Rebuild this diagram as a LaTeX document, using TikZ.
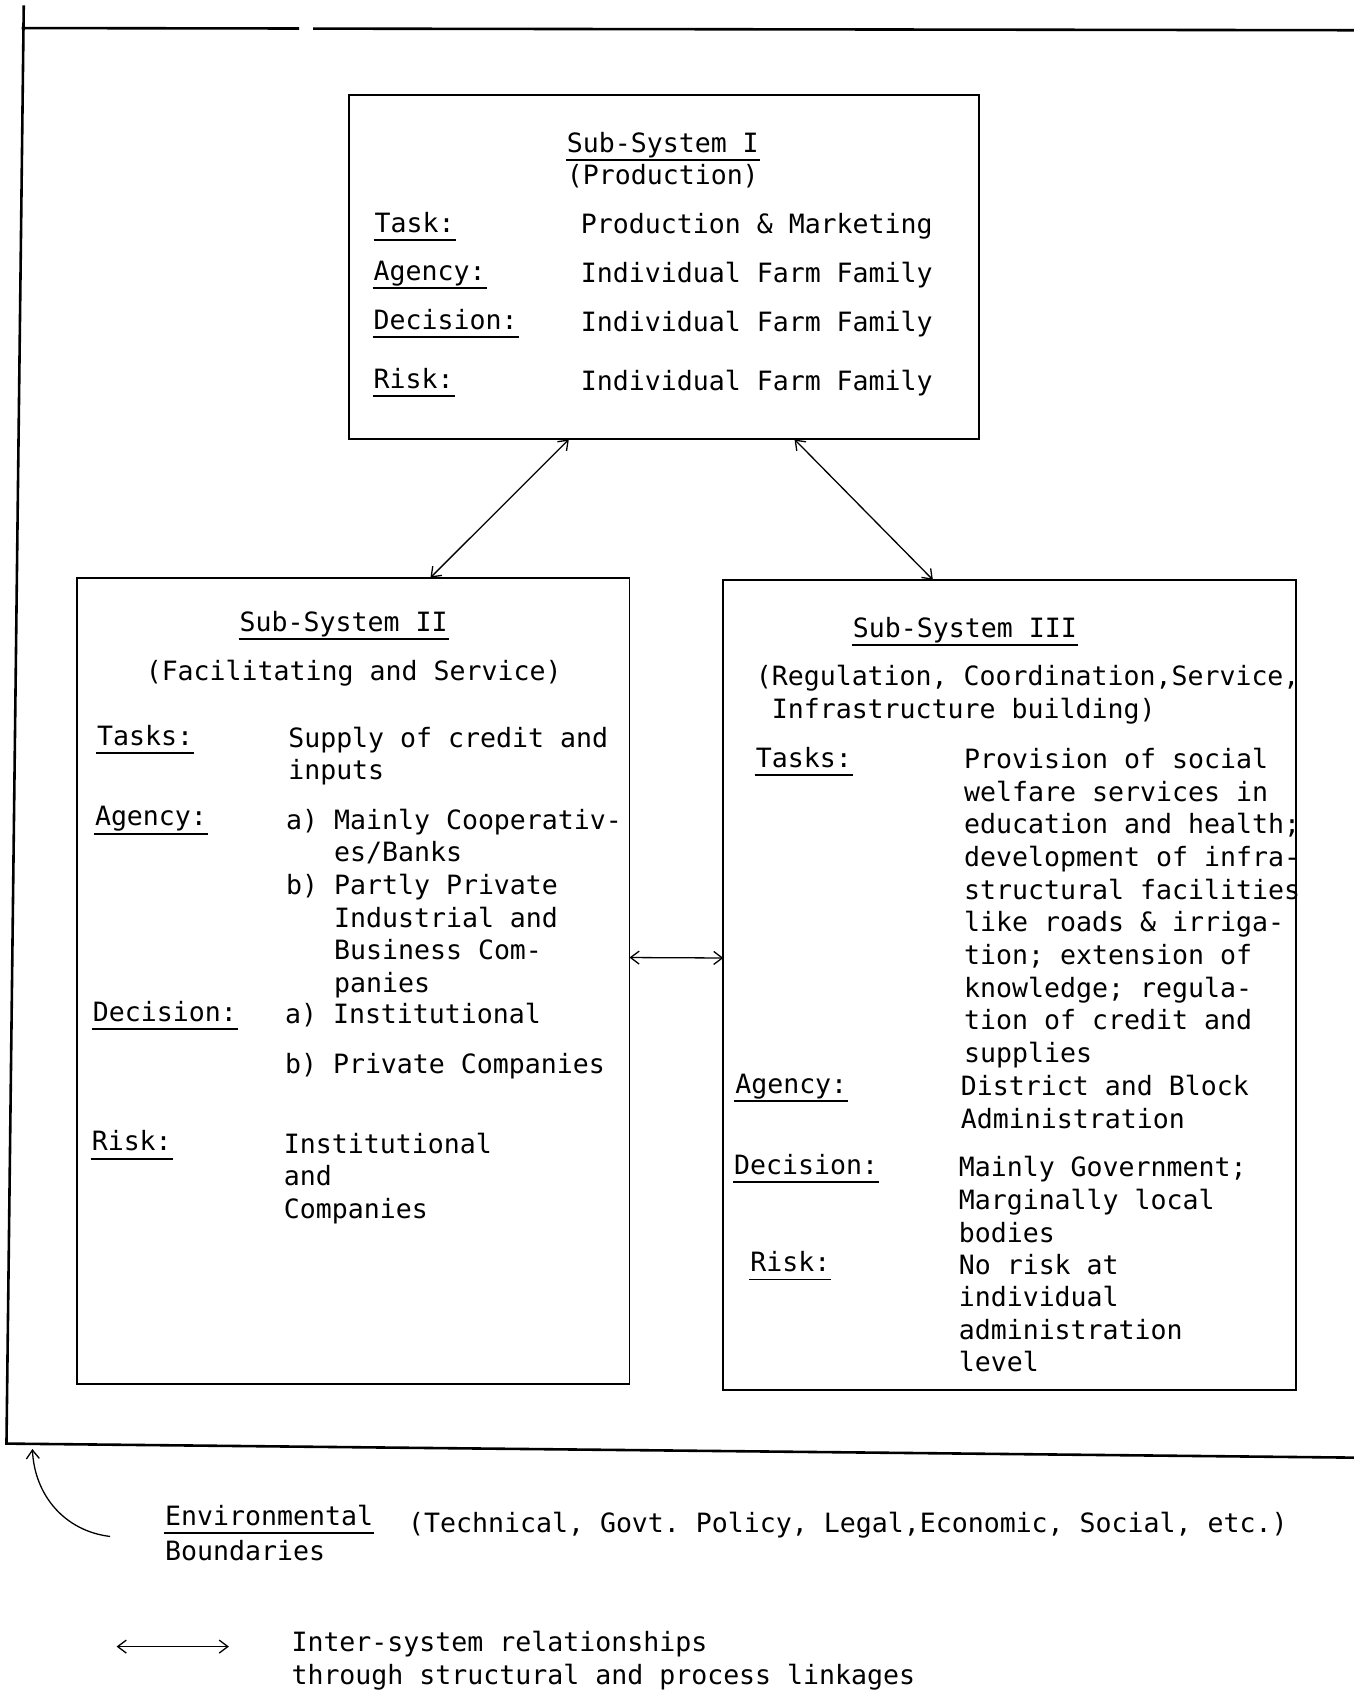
\documentclass[tikz,border=0pt]{standalone}
\usepackage{fontspec}
\newfontfamily\tw{DejaVu Sans Mono}
\usetikzlibrary{arrows.meta,calc}
\frenchspacing
\newcommand\undl[1]{\draw[ulin] ($(#1.base west)+(-1,7)$) -- ($(#1.base east)+(1,7)$);}
\begin{document}
\begin{tikzpicture}[x=0.5pt,y=-0.5pt,
  txt/.style={inner sep=0pt, outer sep=0pt, anchor=base west, font=\tw\frenchspacing\fontsize{12.3}{15.1}\selectfont},
  blk/.style={txt, anchor=north west, align=left},
  sbox/.style={draw, line width=0.9pt, inner sep=0pt, outer sep=0pt, anchor=north west},
  ulin/.style={line width=0.9pt},
  frame/.style={line width=1.2pt},
  conn/.style={line width=0.6pt, {Straight Barb[length=4pt,width=6pt]}-{Straight Barb[length=4pt,width=6pt]}}
]
\useasboundingbox (0,0) rectangle (1254,1568);

% outer environmental boundary
\coordinate (fTL) at (22,5);
\coordinate (fBL) at (6,1337);
\coordinate (fBR) at (1254,1350);
\draw[frame] (fTL) -- (fBL) -- (fBR);
\draw[frame] (20,26) -- (277,26.4);
\draw[frame] (290,26.5) -- (1254,28);

% boxes
\node[sbox, minimum width=292pt, minimum height=159.5pt] (s1) at (323,88) {};
\node[sbox, minimum width=256pt, minimum height=373.5pt] (s2) at (71,535) {};
\node[sbox, minimum width=265pt, minimum height=375pt] (s3) at (670,537) {};

% Sub-System I
\node[txt] (s1t) at (525,141) {Sub-System I}; \undl{s1t}
\node[txt] (s1p) at (525,171) {(Production)};
\node[txt] (s1a1) at (347,215) {Task:}; \undl{s1a1}
\node[txt] (s1v1) at (538,216) {Production \& Marketing};
\node[txt] (s1a2) at (346,260) {Agency:}; \undl{s1a2}
\node[txt] (s1v2) at (538,262) {Individual Farm Family};
\node[txt] (s1a3) at (346,305) {Decision:}; \undl{s1a3}
\node[txt] (s1v3) at (538,307) {Individual Farm Family};
\node[txt] (s1a4) at (346,360) {Risk:}; \undl{s1a4}
\node[txt] (s1v4) at (538,362) {Individual Farm Family};

% Sub-System II
\node[txt] (s2t) at (222,585) {Sub-System II}; \undl{s2t}
\node[txt] (s2p) at (135,630) {(Facilitating and Service)};
\node[txt] (s2a1) at (90,690) {Tasks:}; \undl{s2a1}
\node[blk] (s2v1) at (267,670.86) {\strut Supply of credit and\\inputs};
\node[txt] (s2a2) at (88,765) {Agency:}; \undl{s2a2}
\node[blk] (s2v2) at (265,746.86) {\strut a) Mainly Cooperativ-\\\hphantom{a)~}es/Banks\\b) Partly Private\\\hphantom{a)~}Industrial and\\\hphantom{a)~}Business Com-\\\hphantom{a)~}panies};
\node[txt] (s2a3) at (86,946) {Decision:}; \undl{s2a3}
\node[txt] (s2v3) at (264,948) {a) Institutional};
\node[txt] (s2v4) at (264,994) {b) Private Companies};
\node[txt] (s2a4) at (85,1066) {Risk:}; \undl{s2a4}
\node[blk] (s2v5) at (263,1046.86) {\strut Institutional\\and\\Companies};

% Sub-System III
\node[txt] (s3t) at (790,590) {Sub-System III}; \undl{s3t}
\node[blk] (s3p) at (700,613.86) {\strut (Regulation, Coordination,Service,\\\hphantom{(}Infrastructure building)};
\node[txt] (s3a1) at (700,711) {Tasks:}; \undl{s3a1}
\node[blk] (s3v1) at (893,690.86) {\strut Provision of social\\welfare services in\\education and health;\\development of infra-\\structural facilities\\like roads \& irriga-\\tion; extension of\\knowledge; regula-\\tion of credit and\\supplies};
\node[txt] (s3a2) at (681,1013) {Agency:}; \undl{s3a2}
\node[blk] (s3v2) at (890,993.86) {\strut District and Block\\Administration};
\node[txt] (s3a3) at (680,1088) {Decision:}; \undl{s3a3}
\node[blk] (s3v3) at (888,1068.86) {\strut Mainly Government;\\Marginally local\\bodies};
\node[txt] (s3a4) at (695,1178) {Risk:}; \undl{s3a4}
\node[blk] (s3v4) at (888,1158.86) {\strut No risk at\\individual\\administration\\level};

% inter-system connectors
\draw[conn] ($(s1.south west)!0.349!(s1.south east)$) -- ($(s2.north west)!0.64!(s2.north east)$);
\draw[conn] ($(s1.south west)!0.707!(s1.south east)$) -- ($(s3.north west)!0.366!(s3.north east)$);
\draw[conn] ($(s2.north east)!0.471!(s2.south east)$) -- ($(s3.north west)!0.467!(s3.south west)$);

% legend
\coordinate (etip) at (30,1342);
\coordinate (etail) at (102,1423);
\draw[line width=0.6pt, -{Straight Barb[length=4pt,width=6pt]}] (etail) .. controls (60,1418) and (32,1385) .. (etip);
\node[txt] (env) at (153,1413) {Environmental}; \undl{env}
\node[txt] (bnd) at (153,1445) {Boundaries};
\node[txt] (envx) at (378,1419) {(Technical, Govt. Policy, Legal,Economic, Social, etc.)};

\coordinate (la) at (108,1525);
\coordinate (lb) at (212,1525);
\draw[conn] (la) -- (lb);
\node[blk] (inter) at (270,1508.86) {\strut Inter-system relationships\\through structural and process linkages};
\end{tikzpicture}
\end{document}
